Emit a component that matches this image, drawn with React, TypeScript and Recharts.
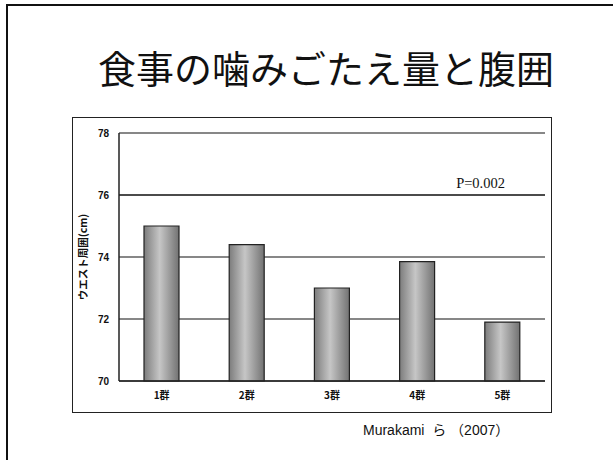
import React from "react";
import {
  BarChart,
  Bar,
  XAxis,
  YAxis,
  CartesianGrid,
  ReferenceLine,
} from "recharts";

const groups = ["1群", "2群", "3群", "4群", "5群"];
const waist = [75.0, 74.4, 73.0, 73.85, 71.9];
const yTicks = [70, 72, 74, 76, 78];
const pLabel = "P=0.002";

const data = groups.map((g, i) => ({ name: g, waist: waist[i] }));

const App: React.FC = () => {
  return (
    <div
      style={{
        position: "absolute",
        left: 0,
        top: 0,
        width: 613,
        height: 460,
        background: "#fff",
        overflow: "hidden",
        fontFamily: "'Noto Sans CJK JP', sans-serif",
      }}
    >
      {/* slide frame */}
      <div style={{ position: "absolute", left: 6, top: 4, width: 2, height: 456, background: "#111" }} />
      <div style={{ position: "absolute", left: 6, top: 4, width: 607, height: 2, background: "#111" }} />

      <div
        style={{
          position: "absolute",
          left: 0,
          width: 652,
          top: 42,
          textAlign: "center",
          fontSize: 38,
          lineHeight: "50px",
          color: "#111",
        }}
      >
        食事の噛みごたえ量と腹囲
      </div>

      {/* chart box */}
      <div
        style={{
          position: "absolute",
          left: 72,
          top: 117,
          width: 478,
          height: 294,
          border: "1px solid #222",
        }}
      >
        <BarChart
          width={478}
          height={294}
          data={data}
          margin={{ top: 15, right: 6, bottom: 0, left: 0 }}
          barCategoryGap={25}
        >
          <defs>
            <linearGradient id="barShade" x1="0" y1="0" x2="1" y2="0">
              <stop offset="0%" stopColor="#7c7c7c" />
              <stop offset="45%" stopColor="#c6c6c6" />
              <stop offset="100%" stopColor="#727272" />
            </linearGradient>
          </defs>
          <CartesianGrid vertical={false} stroke="#111" strokeWidth={1.2} />
          <XAxis
            dataKey="name"
            height={31}
            tickLine={false}
            tickSize={0}
            tickMargin={11}
            axisLine={{ stroke: "#222", strokeWidth: 1.5 }}
            tick={{ fontSize: 10, fill: "#111", fontWeight: "bold", fontFamily: "'Noto Sans CJK JP', sans-serif" }}
          />
          <YAxis
            domain={[70, 78]}
            ticks={yTicks}
            width={46}
            tickLine={false}
            tickSize={0}
            tickMargin={10}
            axisLine={{ stroke: "#222", strokeWidth: 1.5 }}
            tick={{ fontSize: 10, fill: "#111", fontWeight: "bold", fontFamily: "Arial, 'Liberation Sans', sans-serif" }}
            label={{
              value: "ウエスト周囲(cm)",
              angle: -90,
              position: "insideLeft",
              offset: 10,
              style: { fontSize: 10.5, fill: "#111", fontWeight: "bold", textAnchor: "middle" },
            }}
          />
          <YAxis
            yAxisId="right"
            orientation="right"
            width={0}
            tick={false}
            tickLine={false}
            axisLine={{ stroke: "#888", strokeWidth: 1.2 }}
          />
          <ReferenceLine y={78} stroke="#888" strokeWidth={1.2} />
          <ReferenceLine
            y={76}
            stroke="#111"
            strokeWidth={1.2}
            label={(props: any) => {
              const vb = props.viewBox;
              return (
                <text
                  x={vb.x + vb.width - 40}
                  y={vb.y - 7}
                  textAnchor="end"
                  fontSize={14.5}
                  fill="#111"
                  fontFamily="'Liberation Serif', 'Times New Roman', serif"
                >
                  {pLabel}
                </text>
              );
            }}
          />
          <Bar
            dataKey="waist"
            fill="url(#barShade)"
            stroke="#222"
            strokeWidth={1.2}
            isAnimationActive={false}
          />
        </BarChart>
      </div>

      <div
        style={{
          position: "absolute",
          left: 363,
          top: 420,
          fontSize: 14,
          lineHeight: "20px",
          color: "#111",
          whiteSpace: "pre",
          fontFamily: "Arial, 'Liberation Sans', 'Noto Sans CJK JP', sans-serif",
        }}
      >
        Murakami  ら （2007）
      </div>
    </div>
  );
};

export default App;
